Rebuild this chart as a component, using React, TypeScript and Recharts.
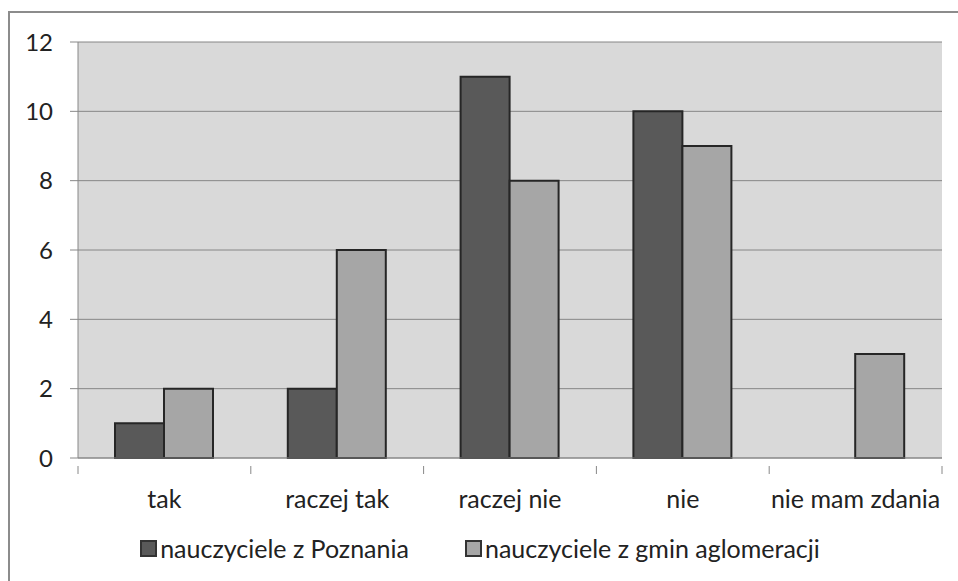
import { Bar, BarChart, CartesianGrid, Legend, XAxis, YAxis } from 'recharts';

const categories = ['tak', 'raczej tak', 'raczej nie', 'nie', 'nie mam zdania'];
const poznan = [1, 2, 11, 10, 0];
const gminy = [2, 6, 8, 9, 3];
const yTicks = [0, 2, 4, 6, 8, 10, 12];

const seriesNames = ['nauczyciele z Poznania', 'nauczyciele z gmin aglomeracji'];
const seriesColors = ['#595959', '#a6a6a6'];

const data = categories.map((c, i) => ({ name: c, poznan: poznan[i], gminy: gminy[i] }));

const W = 958;
const H = 581;
const margin = { top: 42, right: 16, left: 18, bottom: 0 };
const yAxisWidth = 60;
const plotWidth = W - margin.left - margin.right - yAxisWidth;
const half = plotWidth / categories.length / 2;
const font = 'Lato, "Open Sans", sans-serif';
const fontSize = 24;

const CategoryTick = (props: any) => {
  const { x, y, payload, index } = props;
  const last = index === categories.length - 1;
  return (
    <g>
      <line x1={x - half} x2={x - half} y1={y} y2={y + 8} stroke='#888' />
      {last && <line x1={x + half} x2={x + half} y1={y} y2={y + 8} stroke='#888' />}
      <text x={x} y={y + 42} textAnchor='middle' fill='#222' fontSize={fontSize + 1} fontFamily={font}>
        {payload.value}
      </text>
    </g>
  );
};

const LegendBox = () => (
  <div style={{ height: 81, paddingTop: 36, boxSizing: 'border-box', display: 'flex', justifyContent: 'center', gap: 56, fontFamily: font, fontSize: fontSize + 1, color: '#222' }}>
    {seriesNames.map((n, i) => (
      <div key={n} style={{ display: 'flex', alignItems: 'center', height: 24 }}>
        <span style={{ width: 13, height: 13, background: seriesColors[i], border: '2px solid #333', marginRight: 3 }} />
        <span>{n}</span>
      </div>
    ))}
  </div>
);

export default function App() {
  return (
    <div style={{ position: 'absolute', left: 0, top: 0, width: W, height: H, background: '#fff' }}>
      <div style={{ position: 'absolute', left: 8, top: 11, right: 0, bottom: 0, borderTop: '2px solid #8c8c8c', borderLeft: '2px solid #8c8c8c' }} />
      <BarChart width={W} height={H} data={data} margin={margin} barCategoryGap={37} barGap={0}>
        <CartesianGrid vertical={false} stroke='#868686' fill='#d9d9d9' />
        <XAxis dataKey='name' height={42} interval={0} axisLine={{ stroke: '#888' }} tickLine={false} tick={<CategoryTick />} />
        <YAxis
          width={yAxisWidth}
          domain={[0, 12]}
          ticks={yTicks}
          interval={0}
          tickSize={8}
          tickMargin={17}
          axisLine={{ stroke: '#888' }}
          tickLine={{ stroke: '#888' }}
          tick={{ fill: '#222', fontSize, fontFamily: font }}
        />
        <Legend verticalAlign='bottom' content={<LegendBox />} />
        <Bar dataKey='poznan' name={seriesNames[0]} fill={seriesColors[0]} stroke='#262626' strokeWidth={2} isAnimationActive={false} />
        <Bar dataKey='gminy' name={seriesNames[1]} fill={seriesColors[1]} stroke='#262626' strokeWidth={2} isAnimationActive={false} />
      </BarChart>
    </div>
  );
}
